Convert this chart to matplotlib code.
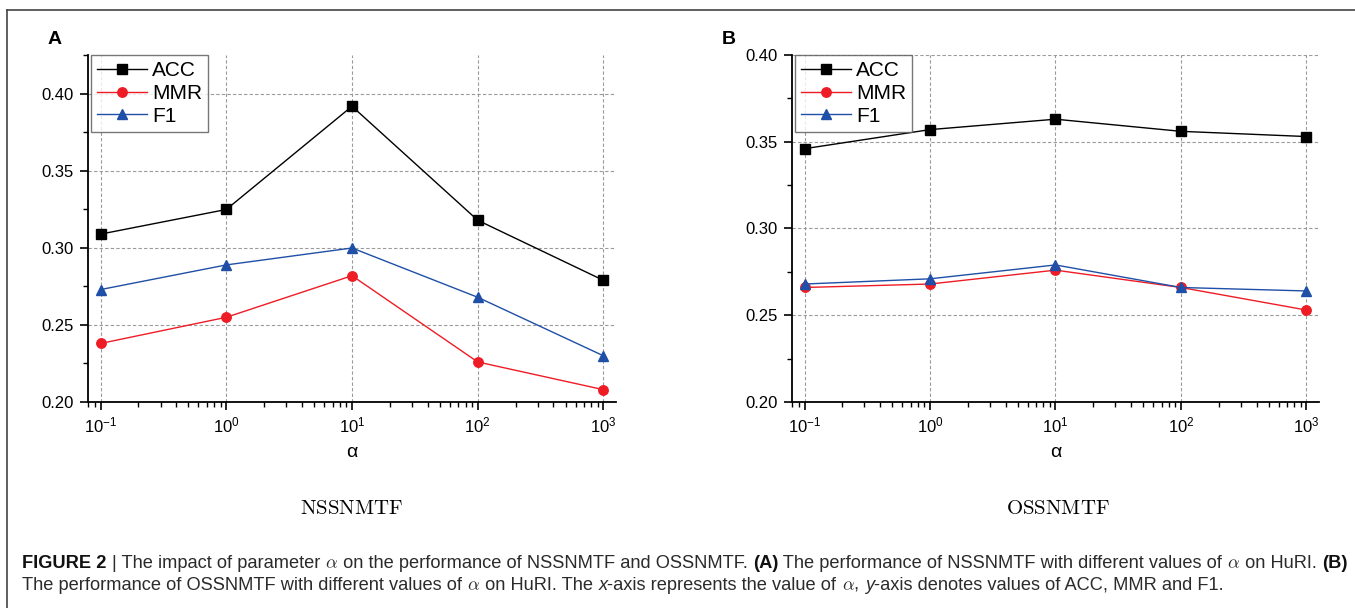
import matplotlib
matplotlib.use("Agg")
import matplotlib.pyplot as plt
from matplotlib.lines import Line2D
from matplotlib.ticker import LogLocator, MultipleLocator, FormatStrFormatter

plt.rcParams["font.family"] = ["Liberation Sans", "DejaVu Sans"]
plt.rcParams["mathtext.fontset"] = "custom"
plt.rcParams["mathtext.rm"] = "Liberation Sans"
plt.rcParams["mathtext.it"] = "Liberation Sans:italic"
plt.rcParams["mathtext.bf"] = "Liberation Sans:bold"

# data
alpha = [0.1, 1, 10, 100, 1000]

nss_acc = [0.309, 0.325, 0.392, 0.318, 0.279]
nss_mmr = [0.238, 0.255, 0.282, 0.226, 0.208]
nss_f1 = [0.273, 0.289, 0.300, 0.268, 0.230]

oss_acc = [0.346, 0.357, 0.363, 0.356, 0.353]
oss_mmr = [0.266, 0.268, 0.276, 0.266, 0.253]
oss_f1 = [0.268, 0.271, 0.279, 0.266, 0.264]

series_names = ["ACC", "MMR", "F1"]
panel_titles = ["NSSNMTF", "OSSNMTF"]

COLORS = ["#000000", "#ee1c25", "#1f4fa6"]
MARKERS = ["s", "o", "^"]

fig = plt.figure(figsize=(13.55, 6.08), dpi=100)
W, H = 1355, 608


def px_axes(left, right, top, bottom):
    return fig.add_axes([left / W, 1 - bottom / H, (right - left) / W, (bottom - top) / H])


def draw_panel(ax, vals, ytop):
    for v, name, c, m in zip(vals, series_names, COLORS, MARKERS):
        ax.plot(alpha, v, color=c, marker=m, markersize=6.8, linewidth=1.0,
                markeredgecolor=c, label=name, zorder=3)
    ax.set_xscale("log")
    ax.set_xlim(10 ** -1.1, 10 ** 3.1)
    ax.set_ylim(0.20, ytop)
    ax.xaxis.set_major_locator(LogLocator(base=10, numticks=10))
    ax.xaxis.set_minor_locator(LogLocator(base=10, subs=range(2, 10), numticks=20))
    ax.yaxis.set_major_locator(MultipleLocator(0.05))
    ax.yaxis.set_minor_locator(MultipleLocator(0.025))
    ax.yaxis.set_major_formatter(FormatStrFormatter("%.2f"))
    ax.spines["top"].set_visible(False)
    ax.spines["right"].set_visible(False)
    for s in ("left", "bottom"):
        ax.spines[s].set_linewidth(1.3)
    ax.tick_params(which="major", direction="out", length=6, width=1.2, labelsize=12, pad=4)
    ax.tick_params(which="minor", direction="out", length=3.5, width=1.0)
    ax.grid(True, which="major", color="#9a9a9a", linestyle=(0, (3, 2)), linewidth=0.8, zorder=0)
    ax.set_xlabel("α", fontsize=14, labelpad=6)
    leg = ax.legend(loc="upper left", bbox_to_anchor=(0.005, 1.0), fontsize=15, frameon=True,
                    fancybox=False, edgecolor="#555555", handlelength=2.4, handletextpad=0.25,
                    labelspacing=0.18, borderpad=0.3, borderaxespad=0.0)
    leg.get_frame().set_linewidth(1.0)


ax_a = px_axes(88, 616, 55, 402)
draw_panel(ax_a, [nss_acc, nss_mmr, nss_f1], 0.4253)
ax_b = px_axes(792, 1319, 55, 402)
draw_panel(ax_b, [oss_acc, oss_mmr, oss_f1], 0.40)

fig.text(48 / W, 1 - 40 / H, "A", fontsize=14, fontweight="bold", va="center")
fig.text(722 / W, 1 - 40 / H, "B", fontsize=14, fontweight="bold", va="center")

for title, xc in zip(panel_titles, [352, 1058]):
    fig.text(xc / W, 1 - 508 / H, r"$\mathrm{%s}$" % title, fontsize=15,
             math_fontfamily="cm", ha="center", va="center")

# outer frame (top and left edges)
fig.add_artist(Line2D([7.5 / W, 1.0], [1 - 9.5 / H, 1 - 9.5 / H], color="#444444", linewidth=1.2))
fig.add_artist(Line2D([7.5 / W, 7.5 / W], [1 - 9.5 / H, 0.0], color="#444444", linewidth=1.2))

# caption, built from runs with mixed weights
line1 = [
    ("FIGURE 2 ", "bold"), ("| The impact of parameter ", "normal"), ("$\\alpha$", "math"),
    (" on the performance of NSSNMTF and OSSNMTF. ", "normal"), ("(A)", "bold"),
    (" The performance of NSSNMTF with different values of ", "normal"), ("$\\alpha$", "math"),
    (" on HuRI. ", "normal"), ("(B)", "bold"),
]
line2 = [
    ("The performance of OSSNMTF with different values of ", "normal"), ("$\\alpha$", "math"),
    (" on HuRI. The ", "normal"), ("x", "italic"), ("-axis represents the value of ", "normal"),
    ("$\\alpha$", "math"), (", ", "normal"), ("y", "italic"),
    ("-axis denotes values of ACC, MMR and F1.", "normal"),
]

renderer = fig.canvas.get_renderer()


def draw_runs(runs, x0, yc, size):
    x = x0
    for s, kind in runs:
        kw = dict(fontsize=size, color="#2b2b2b", va="baseline")
        if kind == "bold":
            kw["fontweight"] = "bold"
            kw["color"] = "#111111"
        elif kind == "italic":
            kw["fontstyle"] = "italic"
        elif kind == "math":
            kw["math_fontfamily"] = "cm"
        t = fig.text(x / W, 1 - yc / H, s, **kw)
        x += t.get_window_extent(renderer).width
    return x


cap_size = 13.15
draw_runs(line1, 22, 568, cap_size)
draw_runs(line2, 22, 590, cap_size)

fig.savefig("out.png", dpi=100)
